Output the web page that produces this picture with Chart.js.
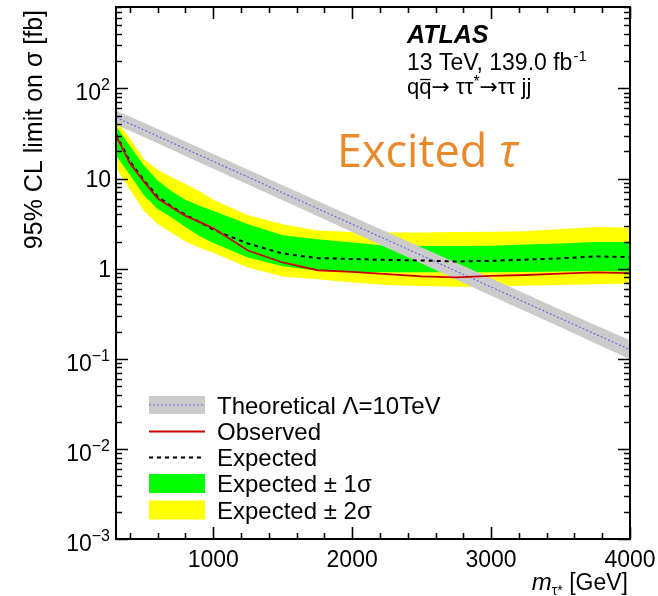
<!DOCTYPE html>
<html>
<head>
<meta charset="utf-8">
<script src="https://cdn.jsdelivr.net/npm/chart.js@4/dist/chart.umd.min.js"></script>
<style>
html,body{margin:0;padding:0;background:#fff;}
#wrap{width:658px;height:596px;}
</style>
</head>
<body>
<div id="wrap"><canvas id="c" width="658" height="596"></canvas></div>
<script>
// ---- data ----
const masses   = [300,400,500,600,700,800,900,1000,1250,1500,1750,2000,2250,2500,2750,3000,3250,3500,3750,4000];
const observed = [30,14.8,9.3,6.0,4.8,3.85,3.3,2.8,1.59,1.17,0.96,0.92,0.87,0.82,0.80,0.83,0.85,0.88,0.91,0.89];
const expected = [31,15.5,9.6,6.3,4.9,3.95,3.3,2.7,1.9,1.47,1.31,1.28,1.25,1.23,1.2,1.22,1.26,1.3,1.37,1.34];
const plus1    = [38,23,14,9.5,7.2,5.8,5.0,4.4,3.1,2.35,2.12,1.95,1.8,1.78,1.78,1.8,1.85,1.9,1.97,1.97];
const minus1   = [18,11,6.5,4.6,3.7,2.9,2.3,1.92,1.33,1.06,0.95,0.92,0.91,0.91,0.91,0.91,0.92,0.93,0.94,0.93];
const plus2    = [44,28,16.5,12.5,10.3,8.7,7.2,5.8,3.9,3.1,2.65,2.55,2.52,2.52,2.55,2.57,2.6,2.75,2.9,2.85];
const minus2   = [13,7.5,4.4,3.1,2.5,2.0,1.7,1.5,1.03,0.82,0.76,0.7,0.66,0.64,0.63,0.63,0.65,0.66,0.67,0.685];
const theoryMass = [300,500,1000,1500,2000,2500,3000,3500,4000];
const theory     = [47.6,34.6,15.5,6.95,3.11,1.40,0.625,0.28,0.126];
const theoryUp   = [57,41.5,18.7,8.4,3.8,1.72,0.78,0.35,0.16];
const theoryDn   = [39.5,28.8,12.8,5.75,2.55,1.14,0.5,0.224,0.099];
const xMajorTicks = [1000,2000,3000,4000];
const xTickLabels = ['1000','2000','3000','4000'];
const yMajorTicks = [0.001,0.01,0.1,1,10,100];
const yTickLabels = [['10','\u22123'],['10','\u22122'],['10','\u22121'],['1',''],['10',''],['10','2']];
const legendLabels = ['Theoretical \u039B=10TeV','Observed','Expected','Expected \u00B1 1\u03C3','Expected \u00B1 2\u03C3'];

const pts = (xs, ys) => xs.map((x,i)=>({x:x, y:ys[i]}));
const FONT = '"Liberation Sans", Arial, Helvetica, sans-serif';

const decor = {
  id:'decor',
  afterDraw(chart){
    const ctx = chart.ctx, a = chart.chartArea;
    const xs = chart.scales.x, ys = chart.scales.y;
    ctx.save();
    // frame
    ctx.strokeStyle = '#000'; ctx.lineWidth = 2;
    ctx.strokeRect(a.left, a.top, a.right-a.left, a.bottom-a.top);
    // x ticks (bottom and top, inside)
    ctx.lineWidth = 1.6;
    ctx.beginPath();
    for (let v = 400; v <= 4000; v += 200) {
      const px = Math.round(xs.getPixelForValue(v)) + 0.5;
      const len = (v % 1000 === 0) ? 12 : 6;
      ctx.moveTo(px, a.bottom); ctx.lineTo(px, a.bottom - len);
      ctx.moveTo(px, a.top); ctx.lineTo(px, a.top + len);
    }
    // y ticks (left and right, inside)
    for (let e = -3; e <= 2; e++) {
      for (let k = 1; k <= 9; k++) {
        const v = k * Math.pow(10, e);
        if (v > ys.max * 1.0001) continue;
        const py = Math.round(ys.getPixelForValue(v)) + 0.5;
        const len = (k === 1) ? 12 : 6;
        ctx.moveTo(a.left, py); ctx.lineTo(a.left + len, py);
        ctx.moveTo(a.right, py); ctx.lineTo(a.right - len, py);
      }
    }
    ctx.stroke();

    // x tick labels
    ctx.fillStyle = '#000';
    ctx.font = '23px ' + FONT;
    ctx.textAlign = 'center'; ctx.textBaseline = 'alphabetic';
    xMajorTicks.forEach((v,i)=>{
      ctx.fillText(xTickLabels[i], xs.getPixelForValue(v), 567);
    });
    // y tick labels
    yMajorTicks.forEach((v,i)=>{
      const py = ys.getPixelForValue(v);
      const [b, s] = yTickLabels[i];
      ctx.textAlign = 'left';
      if (!s) {
        ctx.font = '23px ' + FONT;
        const w = ctx.measureText(b).width;
        ctx.fillText(b, 111 - w, py + 8.5);
      } else {
        ctx.font = '16px ' + FONT;
        const ws = ctx.measureText(s).width;
        ctx.font = '23px ' + FONT;
        const wb = ctx.measureText(b).width;
        const xr = 110;
        ctx.fillText(b, xr - ws - wb, py + 12);
        ctx.font = '16px ' + FONT;
        ctx.fillText(s, xr - ws, py + 2);
      }
    });

    // y axis title
    ctx.save();
    ctx.translate(42, 10);
    ctx.rotate(-Math.PI/2);
    ctx.font = '25px ' + FONT;
    ctx.textAlign = 'right';
    ctx.fillText('95% CL limit on \u03C3 [fb]', 0, 0);
    ctx.restore();

    // x axis title
    ctx.textAlign = 'left';
    ctx.font = '23px ' + FONT;
    const tGeV = ' [GeV]';
    const wGeV = ctx.measureText(tGeV).width;
    ctx.font = '14px ' + FONT;
    const wSub = ctx.measureText('\u03C4*').width;
    ctx.font = 'italic 24px ' + FONT;
    const wM = ctx.measureText('m').width;
    let xx = 628 - wGeV - wSub - wM;
    ctx.fillText('m', xx, 590);
    ctx.font = '14px ' + FONT;
    ctx.fillText('\u03C4*', xx + wM, 595);
    ctx.font = '23px ' + FONT;
    ctx.fillText(tGeV, xx + wM + wSub, 590);

    // ATLAS label block
    ctx.font = 'italic bold 25px ' + FONT;
    ctx.fillText('ATLAS', 407, 43);
    ctx.font = '23px ' + FONT;
    const l2 = '13 TeV, 139.0 fb';
    ctx.fillText(l2, 407, 70);
    const w2 = ctx.measureText(l2).width;
    ctx.font = '15px ' + FONT;
    ctx.fillText('-1', 407 + w2 + 1, 61);
    // process line
    const ARROW = '22px "DejaVu Sans", sans-serif';
    const TXT = '22px ' + FONT;
    ctx.font = TXT;
    let px = 407;
    const wq = ctx.measureText('q').width;
    ctx.fillText('q', px, 94); px += wq;
    ctx.fillText('q', px, 94);
    ctx.lineWidth = 1.3;
    ctx.beginPath(); ctx.moveTo(px + 1, 79.5); ctx.lineTo(px + wq - 1, 79.5); ctx.stroke();
    px += wq;
    ctx.font = ARROW;
    ctx.fillText('\u2192', px, 94); px += ctx.measureText('\u2192').width;
    ctx.font = TXT;
    ctx.fillText(' \u03C4\u03C4', px, 94); px += ctx.measureText(' \u03C4\u03C4').width;
    ctx.font = '16px ' + FONT;
    ctx.fillText('*', px, 87); px += ctx.measureText('*').width;
    ctx.font = ARROW;
    ctx.fillText('\u2192', px, 94); px += ctx.measureText('\u2192').width;
    ctx.font = TXT;
    ctx.fillText('\u03C4\u03C4 jj', px, 94);

    // Excited tau
    ctx.fillStyle = '#E8892B';
    ctx.font = '45px "Open Sans", sans-serif';
    ctx.fillText('Excited ', 337, 167);
    const we = ctx.measureText('Excited ').width;
    ctx.font = 'italic 45px "Open Sans", sans-serif';
    ctx.fillText('\u03C4', 337 + we, 167);

    // legend
    const ds = chart.data.datasets;
    const rows = [405, 431.5, 457.5, 483.5, 510];
    const x0 = 149, x1 = 205;
    ctx.fillStyle = ds[4].backgroundColor;
    ctx.fillRect(x0, rows[0]-9, x1-x0, 18);
    ctx.strokeStyle = ds[6].borderColor; ctx.lineWidth = 1.2; ctx.setLineDash([2,2]);
    ctx.beginPath(); ctx.moveTo(x0, rows[0]); ctx.lineTo(x1, rows[0]); ctx.stroke();
    ctx.setLineDash([]);
    ctx.strokeStyle = ds[8].borderColor; ctx.lineWidth = 2;
    ctx.beginPath(); ctx.moveTo(x0, rows[1]); ctx.lineTo(x1, rows[1]); ctx.stroke();
    ctx.strokeStyle = ds[7].borderColor; ctx.setLineDash([4,4]); ctx.lineWidth = 2;
    ctx.beginPath(); ctx.moveTo(x0, rows[2]); ctx.lineTo(x1, rows[2]); ctx.stroke();
    ctx.setLineDash([]);
    ctx.fillStyle = ds[2].backgroundColor;
    ctx.fillRect(x0, rows[3]-9.5, x1-x0, 19);
    ctx.fillStyle = ds[0].backgroundColor;
    ctx.fillRect(x0, rows[4]-9.5, x1-x0, 19);
    ctx.fillStyle = '#000';
    ctx.font = '24px ' + FONT;
    legendLabels.forEach((t,i)=>ctx.fillText(t, 217, rows[i] + 8.5));
    ctx.restore();
  }
};

new Chart(document.getElementById('c'), {
  type: 'line',
  data: {
    datasets: [
      {label:'+2s', data: pts(masses, plus2), fill:'+1', backgroundColor:'#FFFF00', borderWidth:0, pointRadius:0, order:10},
      {label:'-2s', data: pts(masses, minus2), fill:false, borderWidth:0, pointRadius:0, order:10},
      {label:'+1s', data: pts(masses, plus1), fill:'+1', backgroundColor:'#00FF00', borderWidth:0, pointRadius:0, order:8},
      {label:'-1s', data: pts(masses, minus1), fill:false, borderWidth:0, pointRadius:0, order:8},
      {label:'thUp', data: pts(theoryMass, theoryUp), fill:'+1', backgroundColor:'#CBCBCB', borderWidth:0, pointRadius:0, order:6},
      {label:'thDn', data: pts(theoryMass, theoryDn), fill:false, borderWidth:0, pointRadius:0, order:6},
      {label:'Theory', data: pts(theoryMass, theory), fill:false, borderColor:'#6E6EE6', borderWidth:1.2, borderDash:[2,2], pointRadius:0, order:4},
      {label:'Expected', data: pts(masses, expected), fill:false, borderColor:'#000000', borderWidth:2, borderDash:[4,4], pointRadius:0, order:2},
      {label:'Observed', data: pts(masses, observed), fill:false, borderColor:'#CC0000', borderWidth:1.8, pointRadius:0, order:1}
    ]
  },
  options: {
    responsive:false, animation:false, devicePixelRatio:1,
    layout:{padding:{left:116, right:28, top:7, bottom:57}},
    scales:{
      x:{type:'linear', min:300, max:4000, display:false},
      y:{type:'logarithmic', min:0.001, max:800, display:false}
    },
    plugins:{legend:{display:false}, tooltip:{enabled:false}},
    elements:{line:{tension:0}}
  },
  plugins:[decor]
});
</script>
</body>
</html>
